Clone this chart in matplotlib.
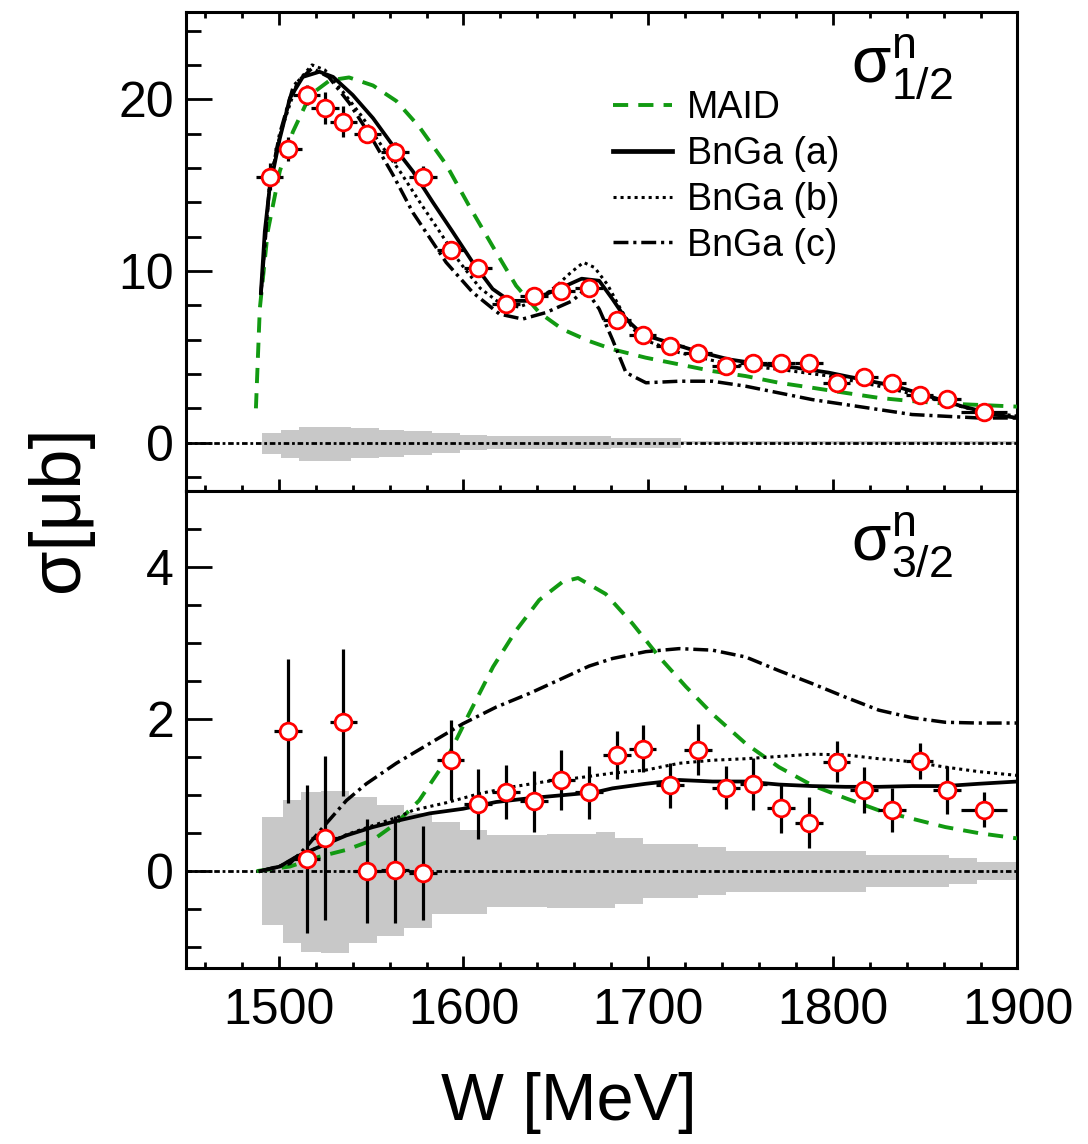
import numpy as np
import matplotlib
matplotlib.use('Agg')
import matplotlib.pyplot as plt
from matplotlib.ticker import MultipleLocator

plt.rcParams['font.family'] = ['Liberation Sans', 'DejaVu Sans']
plt.rcParams['mathtext.default'] = 'regular'

# ---------------- data: top panel (sigma_1/2) ----------------
W_top = [1495, 1505, 1515, 1525, 1535, 1548, 1563, 1578, 1593, 1608, 1623, 1638, 1653, 1668,
         1683, 1697, 1712, 1727, 1742, 1757, 1772, 1787, 1802, 1817, 1832, 1847, 1862, 1882]
s_top = [15.5, 17.1, 20.25, 19.5, 18.7, 17.97, 16.9, 15.5, 11.2, 10.15, 8.1, 8.55, 8.85, 9.0,
         7.15, 6.27, 5.63, 5.24, 4.46, 4.66, 4.62, 4.66, 3.45, 3.82, 3.45, 2.77, 2.55, 1.81]
ey_top = [0.8, 0.7, 0.6, 0.95, 0.9, 0.5, 0.6, 0.6, 0.5, 0.4, 0.4, 0.4, 0.4, 0.4,
          0.35, 0.35, 0.3, 0.3, 0.3, 0.3, 0.3, 0.3, 0.3, 0.3, 0.3, 0.3, 0.3, 0.3]
ex_top = [7.5] * 27 + [12.5]

maid_top_W = [1487.6, 1489.7, 1494, 1500.5, 1507.6, 1517, 1527.6, 1538, 1551, 1563.6, 1576, 1590.6,
              1603, 1616, 1628.5, 1641, 1653.7, 1668, 1680.7, 1698.7, 1716.8, 1734.8, 1752.8, 1770.8,
              1788.8, 1806.9, 1824.9, 1842.9, 1860.9, 1879, 1900]
maid_top_s = [2.0, 7.8, 12.3, 15.8, 18.1, 20.25, 21.1, 21.27, 20.8, 19.9, 18.4, 16.2,
              13.8, 11.4, 9.14, 7.58, 6.6, 5.92, 5.44, 4.95, 4.56, 4.17, 3.88, 3.49,
              3.2, 2.9, 2.61, 2.42, 2.28, 2.2, 2.1]

a_top_W = [1490.3, 1492.4, 1495, 1500.5, 1506, 1513, 1522, 1529.4, 1540, 1551, 1561.8, 1572.6,
           1583.4, 1594, 1605, 1615.8, 1625, 1634, 1644.7, 1655.5, 1664, 1673.5, 1680.7, 1688,
           1697, 1711.4, 1725.8, 1743.8, 1761.8, 1779.8, 1797.8, 1815.8, 1833.9, 1851.9, 1869.9,
           1887.9, 1900]
a_top_s = [8.75, 12.3, 14.8, 17.7, 20.06, 21.3, 21.6, 21.3, 20.25, 18.9, 17.3, 15.8,
           14.0, 12.3, 10.5, 8.95, 8.26, 8.26, 8.65, 9.14, 9.55, 9.43, 8.36, 7.2,
           6.3, 5.83, 5.34, 4.85, 4.56, 4.37, 4.08, 3.68, 3.29, 2.71, 2.12,
           1.64, 1.44]

b_top_W = [1490.3, 1495, 1500.5, 1510, 1518, 1525, 1535, 1545, 1555, 1565.6, 1576.4, 1587, 1598,
           1609, 1620, 1630, 1640, 1650, 1658, 1665, 1671, 1678, 1685, 1692, 1700, 1717, 1744,
           1771, 1798, 1825, 1852, 1879, 1900]
b_top_s = [8.6, 15.0, 17.9, 21.0, 22.0, 21.7, 20.4, 19.0, 17.4, 15.8, 14.0, 12.3, 10.5,
           9.0, 8.1, 7.9, 8.3, 9.1, 9.9, 10.5, 10.2, 9.2, 7.8, 6.6, 5.9, 5.24, 4.56,
           4.27, 3.88, 3.29, 2.61, 1.83, 1.55]

c_top_W = [1490.3, 1495, 1500.5, 1508, 1518, 1527, 1538, 1550, 1561.8, 1572.6, 1590.6, 1605,
           1619.5, 1632, 1644.7, 1659, 1666, 1673.5, 1680.7, 1688, 1698.8, 1716.8, 1734.8,
           1752.8, 1770.8, 1788.8, 1806.9, 1824.9, 1842.9, 1860.9, 1879, 1900]
c_top_s = [8.6, 15.0, 18.0, 20.8, 21.8, 21.3, 19.8, 17.8, 15.6, 13.4, 10.5, 8.75,
           7.49, 7.2, 7.58, 8.26, 8.95, 7.78, 6.0, 4.08, 3.49, 3.58, 3.58,
           3.29, 2.9, 2.51, 2.22, 1.93, 1.64, 1.54, 1.44, 1.44]

band_top_edges = [1491, 1501, 1511, 1539, 1554, 1568, 1583, 1598, 1613, 1680, 1718, 1900]
band_top_up = [0.54, 0.74, 0.93, 0.83, 0.74, 0.70, 0.54, 0.45, 0.37, 0.29, 0.1]
band_top_lo = [0.66, 0.91, 1.05, 0.91, 0.82, 0.72, 0.58, 0.43, 0.39, 0.29, 0.1]

# ---------------- data: bottom panel (sigma_3/2) ----------------
W_bot = [1505, 1515, 1525, 1535, 1548, 1563, 1578, 1593, 1608, 1623, 1638, 1653, 1668,
         1683, 1697, 1712, 1727, 1742, 1757, 1772, 1787, 1802, 1817, 1832, 1847, 1862, 1882]
s_bot = [1.85, 0.16, 0.44, 1.96, 0.0, 0.02, -0.02, 1.46, 0.88, 1.04, 0.92, 1.2, 1.04,
         1.53, 1.61, 1.13, 1.6, 1.1, 1.15, 0.83, 0.64, 1.44, 1.07, 0.8, 1.45, 1.07, 0.81]
ey_bot = [0.95, 0.97, 1.08, 0.97, 0.68, 0.7, 0.62, 0.53, 0.46, 0.36, 0.4, 0.39, 0.35,
          0.32, 0.31, 0.3, 0.34, 0.28, 0.34, 0.33, 0.34, 0.27, 0.3, 0.29, 0.24, 0.32, 0.23]
ex_bot = [7.5] * 26 + [12.5]

maid_bot_W = [1488, 1506, 1522, 1536.6, 1551, 1563.6, 1576, 1590.6, 1603, 1616, 1628.5, 1641,
              1653.7, 1662, 1677, 1691.5, 1706, 1720.4, 1734.8, 1752.8, 1770.8, 1788.8, 1806.9,
              1824.9, 1842.9, 1860.9, 1879, 1900]
maid_bot_s = [0.0, 0.06, 0.19, 0.28, 0.41, 0.63, 0.93, 1.46, 2.07, 2.69, 3.17, 3.57,
              3.81, 3.86, 3.65, 3.26, 2.82, 2.43, 2.07, 1.68, 1.37, 1.13, 0.96,
              0.8, 0.69, 0.58, 0.5, 0.43]

a_bot_W = [1490, 1500.5, 1509.6, 1522, 1536.6, 1551, 1565.4, 1581.6, 1599.6, 1617.7, 1635.7,
           1653.7, 1671.7, 1680.7, 1698.7, 1716.8, 1734.8, 1752.8, 1770.8, 1788.8, 1806.9,
           1824.9, 1842.9, 1860.9, 1879, 1900]
a_bot_s = [0.0, 0.06, 0.19, 0.32, 0.47, 0.58, 0.67, 0.76, 0.82, 0.91, 0.96,
           1.0, 1.04, 1.09, 1.15, 1.2, 1.18, 1.18, 1.14, 1.12, 1.11,
           1.11, 1.12, 1.12, 1.15, 1.18]

b_bot_W = [1490, 1500.5, 1509.6, 1522, 1536.6, 1551, 1565.4, 1572.6, 1590.6, 1608.6, 1626.6,
           1644.7, 1662.7, 1680.7, 1698.7, 1716.8, 1734.8, 1752.8, 1770.8, 1788.8, 1806.9,
           1824.9, 1842.9, 1860.9, 1879, 1900]
b_bot_s = [0.0, 0.06, 0.19, 0.32, 0.48, 0.6, 0.72, 0.8, 0.9, 1.02, 1.11,
           1.18, 1.23, 1.29, 1.33, 1.42, 1.46, 1.48, 1.51, 1.54, 1.53,
           1.48, 1.44, 1.37, 1.31, 1.26]

c_bot_W = [1490, 1506, 1515, 1525.8, 1536.6, 1547.4, 1563.6, 1581.6, 1599.6, 1617.7, 1635.7,
           1653.7, 1668, 1680.7, 1698.7, 1716.8, 1734.8, 1752.8, 1770.8, 1788.8, 1806.9,
           1824.9, 1842.9, 1860.9, 1879, 1900]
c_bot_s = [0.0, 0.1, 0.32, 0.63, 0.93, 1.15, 1.42, 1.68, 1.94, 2.16, 2.34,
           2.54, 2.7, 2.8, 2.89, 2.93, 2.91, 2.82, 2.64, 2.47, 2.29,
           2.12, 2.02, 1.96, 1.95, 1.95]

band_bot_edges = [1491, 1502, 1512, 1523, 1538, 1553, 1568, 1583, 1598, 1613, 1645, 1672, 1682,
                  1697, 1727, 1742, 1818, 1863, 1878, 1900]
band_bot_up = [0.715, 0.93, 1.04, 1.06, 0.97, 0.87, 0.76, 0.65, 0.54, 0.47, 0.49, 0.52, 0.43,
               0.36, 0.32, 0.27, 0.21, 0.17, 0.12]
band_bot_lo = [0.71, 0.95, 1.06, 1.08, 0.95, 0.86, 0.75, 0.56, 0.56, 0.47, 0.49, 0.49, 0.43,
               0.36, 0.32, 0.27, 0.21, 0.17, 0.12]

legend_labels = ['MAID', 'BnGa (a)', 'BnGa (b)', 'BnGa (c)']
x_ticks = [1500, 1600, 1700, 1800, 1900]

# ---------------- styles ----------------
GREEN = '#129a12'
GREY = '#c8c8c8'

fig = plt.figure(figsize=(10.88, 11.44), dpi=100)
ax1 = fig.add_axes([0.1714, 0.5704, 0.7638, 0.4194])
ax2 = fig.add_axes([0.1714, 0.1536, 0.7638, 0.4168])


def draw_panel(ax, edges, up, lo, W, s, ex, ey, curves):
    up_s = list(up) + [up[-1]]
    lo_s = [-v for v in lo] + [-lo[-1]]
    ax.fill_between(edges, lo_s, up_s, step='post', color=GREY, lw=0, zorder=1)
    ax.axhline(0, color='black', lw=2.0, dashes=(2.0, 1.0, 1.0, 1.0), zorder=2)
    handles = []
    (mw, ms_), (aw, as_), (bw, bs), (cw, cs) = curves
    handles.append(ax.plot(mw, ms_, color=GREEN, lw=2.8, dashes=(3.9, 2.6), zorder=3)[0])
    handles.append(ax.plot(aw, as_, color='black', lw=2.7, zorder=3)[0])
    handles.append(ax.plot(bw, bs, color='black', lw=2.2, dashes=(1, 1.3), zorder=3)[0])
    handles.append(ax.plot(cw, cs, color='black', lw=2.5, dashes=(4.3, 1.4, 0.9, 1.4), zorder=3)[0])
    ax.errorbar(W, s, xerr=ex, yerr=ey, fmt='none', ecolor='black', elinewidth=2.3,
                capsize=0, zorder=4)
    ax.plot(W, s, 'o', mfc='white', mec='red', ms=12, mew=2.0, zorder=5, ls='none')
    return handles


h = draw_panel(ax1, band_top_edges, band_top_up, band_top_lo, W_top, s_top, ex_top, ey_top,
               [(maid_top_W, maid_top_s), (a_top_W, a_top_s), (b_top_W, b_top_s), (c_top_W, c_top_s)])
draw_panel(ax2, band_bot_edges, band_bot_up, band_bot_lo, W_bot, s_bot, ex_bot, ey_bot,
           [(maid_bot_W, maid_bot_s), (a_bot_W, a_bot_s), (b_bot_W, b_bot_s), (c_bot_W, c_bot_s)])

ax1.set_xlim(1450, 1900)
ax2.set_xlim(1450, 1900)
ax1.set_ylim(-2.84, 25.1)
ax2.set_ylim(-1.28, 5.0)

for ax in (ax1, ax2):
    for sp in ax.spines.values():
        sp.set_linewidth(2.2)
    ax.set_xticks(x_ticks)
    ax.xaxis.set_minor_locator(MultipleLocator(20))
    ax.tick_params(axis='y', which='major', direction='in', length=19, width=2,
                   left=True, right=False, labelsize=36, pad=9)
    ax.tick_params(axis='y', which='minor', direction='in', length=11, width=2,
                   left=True, right=False)
    ax.tick_params(axis='x', which='major', direction='in', length=9, width=2, labelsize=36, pad=14)
    ax.tick_params(axis='x', which='minor', direction='in', length=4.5, width=2)

ax1.yaxis.set_major_locator(MultipleLocator(10))
ax1.yaxis.set_minor_locator(MultipleLocator(2))
ax2.yaxis.set_major_locator(MultipleLocator(2))
ax2.yaxis.set_minor_locator(MultipleLocator(0.5))
ax1.tick_params(axis='x', which='both', top=True, bottom=True, labelbottom=False)
ax2.tick_params(axis='x', which='both', top=False, bottom=True)

leg = ax1.legend(h, legend_labels, loc='upper left', bbox_to_anchor=(0.513, 0.836),
                 frameon=False, fontsize=27, handlelength=1.57, handletextpad=0.4,
                 labelspacing=0.26, borderpad=0, borderaxespad=0)
leg.get_lines()[1].set_linewidth(3.4)

ax1.text(0.80, 0.854, r'$\sigma^{n}_{1/2}$', transform=ax1.transAxes, fontsize=46,
         ha='left', va='baseline')
ax2.text(0.80, 0.857, r'$\sigma^{n}_{3/2}$', transform=ax2.transAxes, fontsize=46,
         ha='left', va='baseline')

fig.text(0.055, 0.555, 'σ[μb]', rotation=90, ha='center', va='center', fontsize=52)
fig.text(0.523, 0.036, 'W [MeV]', ha='center', va='center', fontsize=48)

fig.savefig('out.png', dpi=100)
